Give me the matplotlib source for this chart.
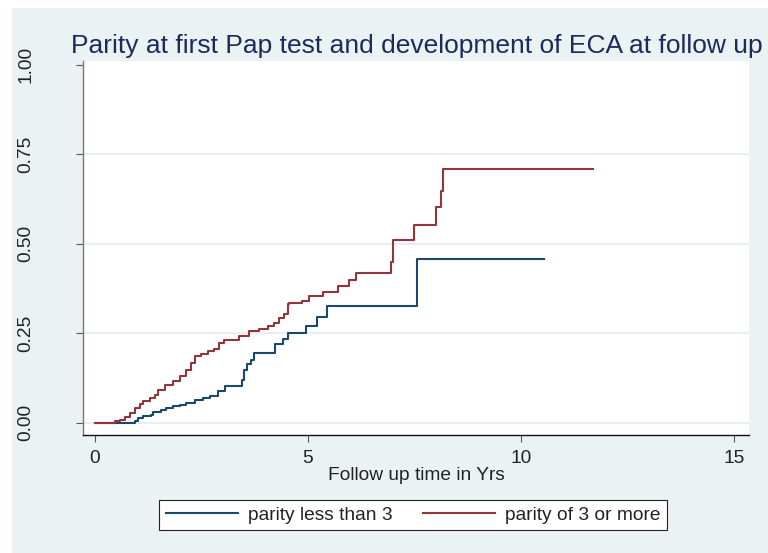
import matplotlib
matplotlib.use('Agg')
import matplotlib.pyplot as plt
from matplotlib.patches import Rectangle

# failure curve, parity < 3
blue_t = [0, 0.93, 1.01, 1.13, 1.32, 1.36, 1.56, 1.66, 1.83, 1.99, 2.14, 2.34, 2.53, 2.69,
          2.88, 3.06, 3.45, 3.50, 3.58, 3.66, 3.74, 4.23, 4.42, 4.52, 4.95, 5.22, 5.45,
          7.55, 10.55]
blue_s = [0, 0.004, 0.013, 0.018, 0.022, 0.029, 0.035, 0.041, 0.046, 0.050, 0.055, 0.065,
          0.069, 0.074, 0.088, 0.102, 0.121, 0.149, 0.163, 0.175, 0.194, 0.219, 0.233,
          0.252, 0.270, 0.297, 0.327, 0.458, 0.458]

# failure curve, parity >= 3
red_t = [0, 0.47, 0.58, 0.70, 0.82, 0.93, 1.05, 1.13, 1.29, 1.40, 1.48, 1.64, 1.83, 1.99,
         2.14, 2.25, 2.34, 2.49, 2.65, 2.80, 2.92, 3.04, 3.39, 3.62, 3.86, 4.05, 4.21,
         4.32, 4.44, 4.52, 4.56, 4.87, 5.02, 5.35, 5.70, 5.96, 6.13, 6.96, 7.00, 7.48,
         8.01, 8.12, 8.17, 11.68]
red_s = [0, 0.004, 0.008, 0.017, 0.027, 0.042, 0.052, 0.060, 0.069, 0.079, 0.093, 0.107,
         0.116, 0.130, 0.149, 0.168, 0.186, 0.191, 0.202, 0.207, 0.224, 0.231, 0.242,
         0.256, 0.263, 0.270, 0.280, 0.294, 0.303, 0.331, 0.336, 0.341, 0.355, 0.366,
         0.383, 0.400, 0.419, 0.449, 0.512, 0.553, 0.602, 0.649, 0.708, 0.708]

xticks = [0, 5, 10, 15]
yticks = [0, 0.25, 0.5, 0.75, 1.0]
ylabels = ['0.00', '0.25', '0.50', '0.75', '1.00']

bg = '#EAF2F3'
fs = 13.8
plt.rcParams['font.family'] = ['Liberation Sans', 'DejaVu Sans']

fig = plt.figure(figsize=(7.68, 5.53), dpi=100, facecolor='white')
fig.patches.append(Rectangle((12/768, 0), 756/768, 545/553, transform=fig.transFigure,
                             facecolor=bg, edgecolor='none', zorder=-1))

ax = fig.add_axes([83/768, 1 - 435/553, (749 - 83)/768, (435 - 61)/553])
ax.set_facecolor('white')

for y in yticks[:-1]:
    ax.axhline(y, color='#E8EFF1', lw=1.6, zorder=1)

ax.step(blue_t, blue_s, where='post', color='#1A476F', lw=1.5, zorder=3,
        label='parity less than 3')
ax.step(red_t, red_s, where='post', color='#90353B', lw=1.5, zorder=3,
        label='parity of 3 or more')

ax.set_xlim(-0.28, 15.35)
ax.set_ylim(-0.034, 1.011)
ax.set_xticks(xticks)
ax.set_yticks(yticks)
ax.set_yticklabels(ylabels, rotation=90, va='center')
ax.tick_params(axis='both', direction='out', length=5, width=0.8, color='#555555',
               labelsize=fs, labelcolor='#222222')
ax.tick_params(axis='y', pad=30)
ax.tick_params(axis='x', pad=6)

for s in ['top', 'right']:
    ax.spines[s].set_visible(False)
ax.spines['left'].set_color('#777777')
ax.spines['bottom'].set_color('#111111')
ax.spines['left'].set_linewidth(1.0)
ax.spines['bottom'].set_linewidth(1.0)

ax.set_xlabel('Follow up time in Yrs', fontsize=fs, color='#222222', labelpad=0)

fig.text(417/768, 1 - 52.7/553, 'Parity at first Pap test and development of ECA at follow up',
         ha='center', va='baseline', fontsize=19, color='#1C2B5A')

leg = fig.legend(loc='center', bbox_to_anchor=(413/768, 1 - 515/553), ncol=2,
                 fontsize=fs, frameon=True, fancybox=False, edgecolor='#222222',
                 facecolor='white', framealpha=1,
                 handlelength=3.75, columnspacing=1.6, handletextpad=0.52,
                 borderpad=0.35)
leg.get_frame().set_linewidth(0.8)
for t in leg.get_texts():
    t.set_color('#222222')

fig.savefig('out.png', dpi=100, facecolor=fig.get_facecolor())
